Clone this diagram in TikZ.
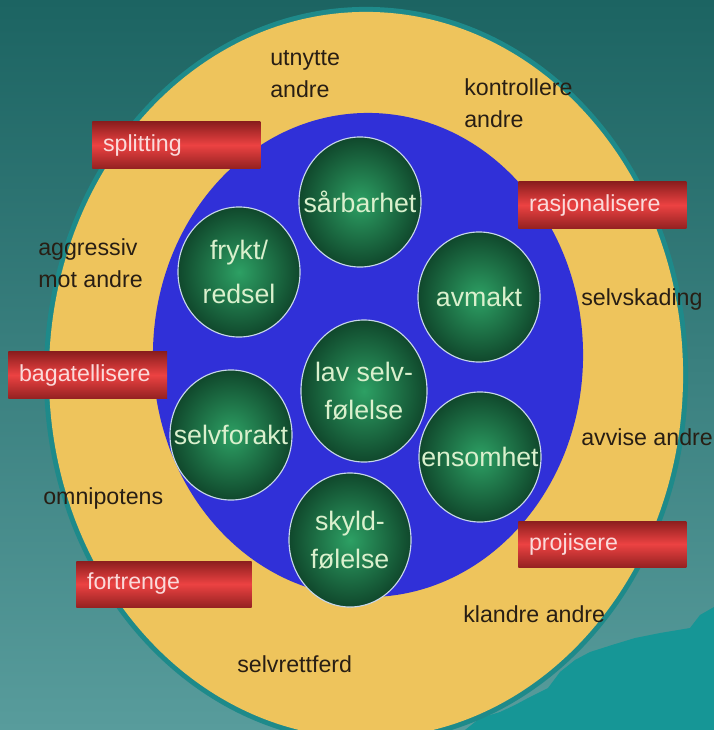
\documentclass[tikz,border=0pt]{standalone}
\usepackage{fontspec}
\setmainfont{Liberation Sans}
\usetikzlibrary{shapes.geometric}
\definecolor{bgtop}{RGB}{28,100,98}
\definecolor{bgbot}{RGB}{88,156,156}
\definecolor{hill}{RGB}{22,150,150}
\definecolor{rim}{RGB}{30,138,138}
\definecolor{ringyellow}{RGB}{238,196,92}
\definecolor{ringblue}{RGB}{48,48,216}
\definecolor{ballin}{RGB}{45,160,100}
\definecolor{ballout}{RGB}{16,72,44}
\definecolor{ballline}{RGB}{200,215,235}
\definecolor{balltext}{RGB}{218,240,205}
\definecolor{redtop}{RGB}{140,30,30}
\definecolor{redmid}{RGB}{236,66,66}
\definecolor{redbot}{RGB}{150,34,34}
\definecolor{redtext}{RGB}{250,218,218}
\definecolor{labeltext}{RGB}{40,30,20}
\begin{document}
\begin{tikzpicture}[x=0.025cm,y=-0.025cm]
\useasboundingbox (0,0) rectangle (714,730);
% background
\fill[top color=bgtop,bottom color=bgbot] (0,0) rectangle (714,730);
\fill[hill] (465,730) -- (480,718) -- (500,712) -- (515,705) -- (530,697) -- (548,688)
  -- (560,672) -- (575,660) -- (590,652) -- (612,645) -- (635,638) -- (660,633)
  -- (690,628) -- (700,615) -- (714,607) -- (714,730) -- cycle;
% rings
\fill[rim] (366,375) ellipse [x radius=8.05cm, y radius=9.2cm];
\fill[ringyellow] (366,375) ellipse [x radius=7.925cm, y radius=9.075cm];
\fill[ringblue] (368,355) ellipse [x radius=5.375cm, y radius=6.05cm];
% inner balls
\begin{scope}[every node/.style={ellipse, draw=ballline, line width=0.8pt,
    inner color=ballin, outer color=ballout, inner sep=0pt,
    minimum width=3.05cm, minimum height=3.25cm}]
  \node (saarbarhet) at (360,202) {};
  \node (frykt)      at (239,272) {};
  \node (avmakt)     at (479,297) {};
  \node[minimum width=3.15cm, minimum height=3.55cm] (lavselv) at (364,391) {};
  \node (selvforakt) at (231,435) {};
  \node (ensomhet)   at (480,457) {};
  \node[minimum height=3.35cm] (skyld) at (350,540) {};
\end{scope}
\begin{scope}[every node/.style={text=balltext, align=center, inner sep=0pt,
    font=\fontsize{19}{27}\selectfont}]
  \node (tsaarbarhet) at (saarbarhet) {sårbarhet};
  \node[font=\fontsize{19}{31}\selectfont] (tfrykt) at (frykt) {frykt/\\redsel};
  \node (tavmakt) at (avmakt) {avmakt};
  \node (tlavselv) at (lavselv) {lav selv-\\følelse};
  \node (tselvforakt) at (selvforakt) {selvforakt};
  \node (tensomhet) at (ensomhet) {ensomhet};
  \node (tskyld) at (skyld) {skyld-\\følelse};
\end{scope}
% defence boxes
\begin{scope}[every node/.style={rectangle, anchor=west, align=left,
    minimum height=1.15cm, inner xsep=0.27cm, inner ysep=0pt,
    top color=redtop, bottom color=redbot, middle color=redmid,
    text=redtext, font=\fontsize{16.5}{20}\selectfont}]
  \node[text width=3.66cm]  (splitting)     at (92,145)  {splitting};
  \node[text width=3.66cm]  (rasjonalisere) at (518,205) {rasjonalisere};
  \node[text width=3.43cm]  (bagatellisere) at (8,375)   {bagatellisere};
  \node[text width=3.66cm]  (projisere)     at (518,544) {projisere};
  \node[text width=3.84cm]  (fortrenge)     at (76,584)  {fortrenge};
\end{scope}
% outer ring labels
\begin{scope}[every node/.style={anchor=north west, inner sep=0pt, align=left,
    text=labeltext, font=\fontsize{16.5}{23}\selectfont}]
  \node (utnytte)     at (270,50)  {utnytte\\andre};
  \node (kontrollere) at (464,78)  {kontrollere\\andre};
  \node (aggressiv)   at (38,238)  {aggressiv\\mot andre};
  \node (selvskading) at (581,288) {selvskading};
  \node (avvise)      at (581,428) {avvise andre};
  \node (omnipotens)  at (43,487)  {omnipotens};
  \node (klandre)     at (463,605) {klandre andre};
  \node (selvrettferd) at (237,655) {selvrettferd};
\end{scope}
\end{tikzpicture}
\end{document}
